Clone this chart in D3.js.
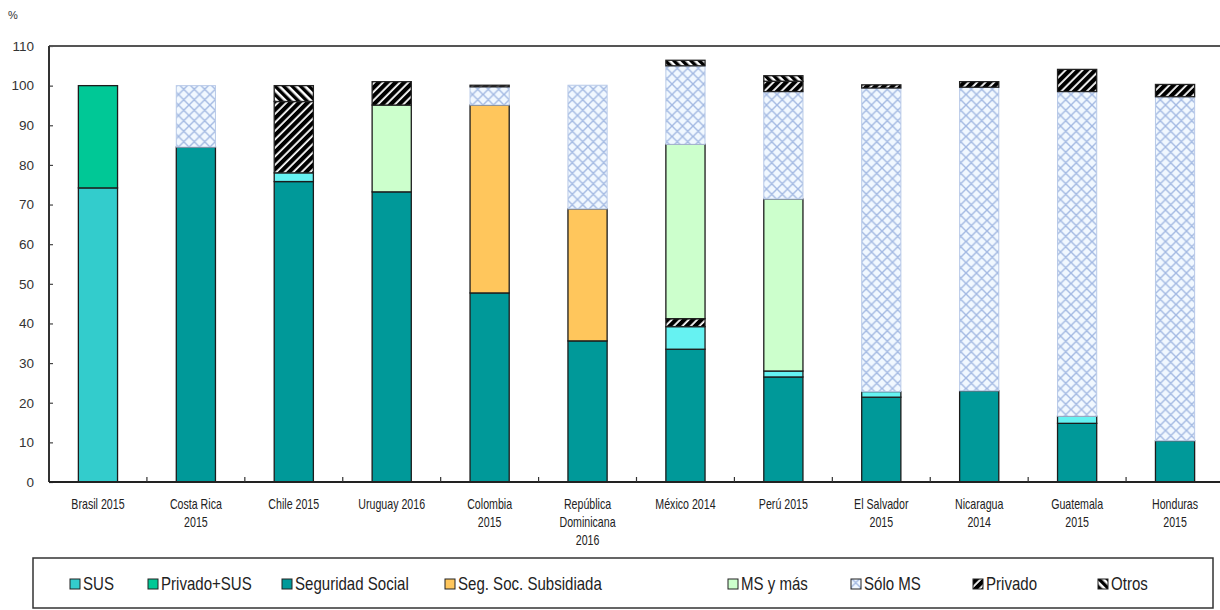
<!DOCTYPE html>
<html lang="es">
<head>
<meta charset="utf-8">
<script src="https://cdn.jsdelivr.net/npm/d3@7"></script>
<style>
  html, body { margin: 0; padding: 0; background: #ffffff; }
  svg { display: block; }
  text { font-family: "Liberation Sans", Arial, sans-serif; }
</style>
</head>
<body>
<svg id="chart" width="1220" height="610"></svg>
<script>
// Países y años
const categories = [
  "Brasil 2015", "Costa Rica 2015", "Chile 2015", "Uruguay 2016", "Colombia 2015",
  "República Dominicana 2016", "México 2014", "Perú 2015", "El Salvador 2015",
  "Nicaragua 2014", "Guatemala 2015", "Honduras 2015"
];
const categoryLines = [
  ["Brasil 2015"], ["Costa Rica", "2015"], ["Chile 2015"], ["Uruguay 2016"], ["Colombia", "2015"],
  ["República", "Dominicana", "2016"], ["México 2014"], ["Perú 2015"], ["El Salvador", "2015"],
  ["Nicaragua", "2014"], ["Guatemala", "2015"], ["Honduras", "2015"]
];

// Porcentaje de población por tipo de cobertura
const seguridadSocial = [0, 84.5, 75.8, 73.2, 47.7, 35.6, 33.5, 26.5, 21.4, 23.0, 14.8, 10.4];
const otrosRegimenes  = [0, 0, 2.2, 0, 0, 0, 5.7, 1.5, 1.4, 0, 1.8, 0];
const sus             = [74.2, 0, 0, 0, 0, 0, 0, 0, 0, 0, 0, 0];
const privadoSus      = [25.8, 0, 0, 0, 0, 0, 0, 0, 0, 0, 0, 0];
const segSocSubsidiada= [0, 0, 0, 0, 47.4, 33.3, 0, 0, 0, 0, 0, 0];
const msYMas          = [0, 0, 0, 21.9, 0, 0, 44.0, 43.4, 0, 0, 0, 0];
const soloMs          = [0, 15.5, 0, 0, 4.6, 31.2, 19.8, 27.1, 76.6, 76.6, 81.9, 86.8];
const privado         = [0, 0, 18.0, 5.9, 0.4, 0, 2.0, 2.6, 0.8, 1.4, 5.6, 3.1];
const otros           = [0, 0, 4.0, 0, 0, 0, 1.4, 1.4, 0, 0, 0, 0];

const yTicks = [0, 10, 20, 30, 40, 50, 60, 70, 80, 90, 100, 110];

const series = {
  seguridadSocial, otrosRegimenes, sus, privadoSus, segSocSubsidiada,
  msYMas, soloMs, privado, otros
};

// Orden de apilado (de abajo hacia arriba)
const stackOrder = ["seguridadSocial", "otrosRegimenes", "sus", "privadoSus", "segSocSubsidiada",
                    "msYMas", "soloMs", "privado", "otros"];
const stackOrderMexico = ["seguridadSocial", "otrosRegimenes", "privado", "msYMas", "soloMs", "otros"];

const legendItems = [
  { key: "sus", label: "SUS" },
  { key: "privadoSus", label: "Privado+SUS" },
  { key: "seguridadSocial", label: "Seguridad Social" },
  { key: "segSocSubsidiada", label: "Seg. Soc. Subsidiada" },
  { key: "msYMas", label: "MS y más" },
  { key: "soloMs", label: "Sólo MS" },
  { key: "privado", label: "Privado" },
  { key: "otros", label: "Otros" }
];

const svg = d3.select("#chart");
const defs = svg.append("defs");

// Trama de rombos para "Sólo MS"
const cell = 10.5;
const pMs = defs.append("pattern").attr("id", "pat-ms")
  .attr("patternUnits", "userSpaceOnUse").attr("width", cell).attr("height", cell);
pMs.append("rect").attr("width", cell).attr("height", cell).attr("fill", "#f1f8ff");
pMs.append("path")
  .attr("d", `M0,0 L${cell},${cell} M${cell},0 L0,${cell} M-1,${cell - 1} L1,${cell + 1} M${cell - 1},-1 L${cell + 1},1 M-1,1 L1,-1 M${cell - 1},${cell + 1} L${cell + 1},${cell - 1}`)
  .attr("stroke", "#a3b9e2").attr("stroke-width", 1.4);

// Rayado "/" para "Privado"
const pPriv = defs.append("pattern").attr("id", "pat-priv")
  .attr("patternUnits", "userSpaceOnUse").attr("width", 6).attr("height", 6)
  .attr("patternTransform", "rotate(45)");
pPriv.append("rect").attr("width", 6).attr("height", 6).attr("fill", "#ffffff");
pPriv.append("rect").attr("width", 4.2).attr("height", 6).attr("fill", "#000000");

// Rayado "\" para "Otros"
const pOtros = defs.append("pattern").attr("id", "pat-otros")
  .attr("patternUnits", "userSpaceOnUse").attr("width", 6).attr("height", 6)
  .attr("patternTransform", "rotate(-45)");
pOtros.append("rect").attr("width", 6).attr("height", 6).attr("fill", "#ffffff");
pOtros.append("rect").attr("width", 3.4).attr("height", 6).attr("fill", "#000000");

const fills = {
  seguridadSocial: "#009999",
  otrosRegimenes: "#66f2f2",
  sus: "#33cccc",
  privadoSus: "#00c896",
  segSocSubsidiada: "#ffc65c",
  msYMas: "#ccffcc",
  soloMs: "url(#pat-ms)",
  privado: "url(#pat-priv)",
  otros: "url(#pat-otros)"
};
const strokes = {
  soloMs: "#b8c9e8",
  privado: "#222222",
  otros: "#222222"
};

const plotLeft = 49, plotTop = 46, plotBottom = 482, plotRight = 49 + 1175;

const x = d3.scaleBand().domain(categories).range([plotLeft, plotRight])
  .paddingInner(0.6).paddingOuter(0.3);
const y = d3.scaleLinear().domain([0, 110]).range([plotBottom, plotTop]);

// Segmentos apilados
const segments = [];
categories.forEach((c, i) => {
  const order = c === "México 2014" ? stackOrderMexico : stackOrder;
  let base = 0;
  order.forEach(k => {
    const v = series[k][i];
    if (v > 0) {
      segments.push({ cat: c, key: k, y0: base, y1: base + v });
      base += v;
    }
  });
});

svg.append("g").selectAll("rect").data(segments).join("rect")
  .attr("x", d => x(d.cat))
  .attr("width", x.bandwidth())
  .attr("y", d => y(d.y1))
  .attr("height", d => y(d.y0) - y(d.y1))
  .attr("fill", d => fills[d.key])
  .attr("stroke", d => strokes[d.key] || "#1c1c1c")
  .attr("stroke-width", d => d.key === "soloMs" ? 1 : 1.3);

// Eje Y
const yAxis = d3.axisLeft(y).tickValues(yTicks).tickSize(-4).tickPadding(15);
const gy = svg.append("g").attr("transform", `translate(${plotLeft},0)`).call(yAxis);
gy.select(".domain").remove();
gy.selectAll(".tick line").attr("stroke", "#444").attr("stroke-width", 1.2);
gy.selectAll(".tick text").attr("font-size", 13.5).attr("fill", "#333")
  .attr("font-family", "Liberation Sans, Arial, sans-serif");

// Marco
svg.append("line").attr("x1", plotLeft).attr("x2", 1220).attr("y1", plotTop).attr("y2", plotTop)
  .attr("stroke", "#555").attr("stroke-width", 2);
svg.append("line").attr("x1", plotLeft).attr("x2", plotLeft).attr("y1", plotTop).attr("y2", plotBottom)
  .attr("stroke", "#333").attr("stroke-width", 2);
svg.append("line").attr("x1", plotLeft).attr("x2", 1220).attr("y1", plotBottom).attr("y2", plotBottom)
  .attr("stroke", "#222").attr("stroke-width", 2);

// Marcas entre categorías
const step = x.step();
svg.append("g").selectAll("line").data(d3.range(1, categories.length)).join("line")
  .attr("x1", i => plotLeft + i * step).attr("x2", i => plotLeft + i * step)
  .attr("y1", plotBottom).attr("y2", plotBottom - 5)
  .attr("stroke", "#333").attr("stroke-width", 1.2);

// Etiquetas de categorías (tipografía condensada)
const gx = svg.append("g");
categories.forEach((c, i) => {
  const cx = x(c) + x.bandwidth() / 2;
  const t = gx.append("text")
    .attr("transform", `translate(${cx},509) scale(0.76,1)`)
    .attr("text-anchor", "middle").attr("font-size", 14).attr("fill", "#222");
  categoryLines[i].forEach((line, j) => {
    t.append("tspan").attr("x", 0).attr("dy", j === 0 ? 0 : 18).text(line);
  });
});

// Unidad
svg.append("text").attr("x", 8).attr("y", 19).attr("font-size", 11).attr("fill", "#333").text("%");

// Leyenda
svg.append("rect").attr("x", 33).attr("y", 558).attr("width", 1180).attr("height", 50)
  .attr("fill", "none").attr("stroke", "#333").attr("stroke-width", 1.5);

const legendX = [70, 148, 282, 445, 728, 851, 973, 1098];
const gl = svg.append("g");
legendItems.forEach((it, i) => {
  gl.append("rect").attr("x", legendX[i]).attr("y", 579).attr("width", 10).attr("height", 10)
    .attr("fill", fills[it.key]).attr("stroke", "#222").attr("stroke-width", 1);
  gl.append("text")
    .attr("transform", `translate(${legendX[i] + 13},590) scale(0.86,1)`)
    .attr("font-size", 17.5).attr("fill", "#222").text(it.label);
});
</script>
</body>
</html>
